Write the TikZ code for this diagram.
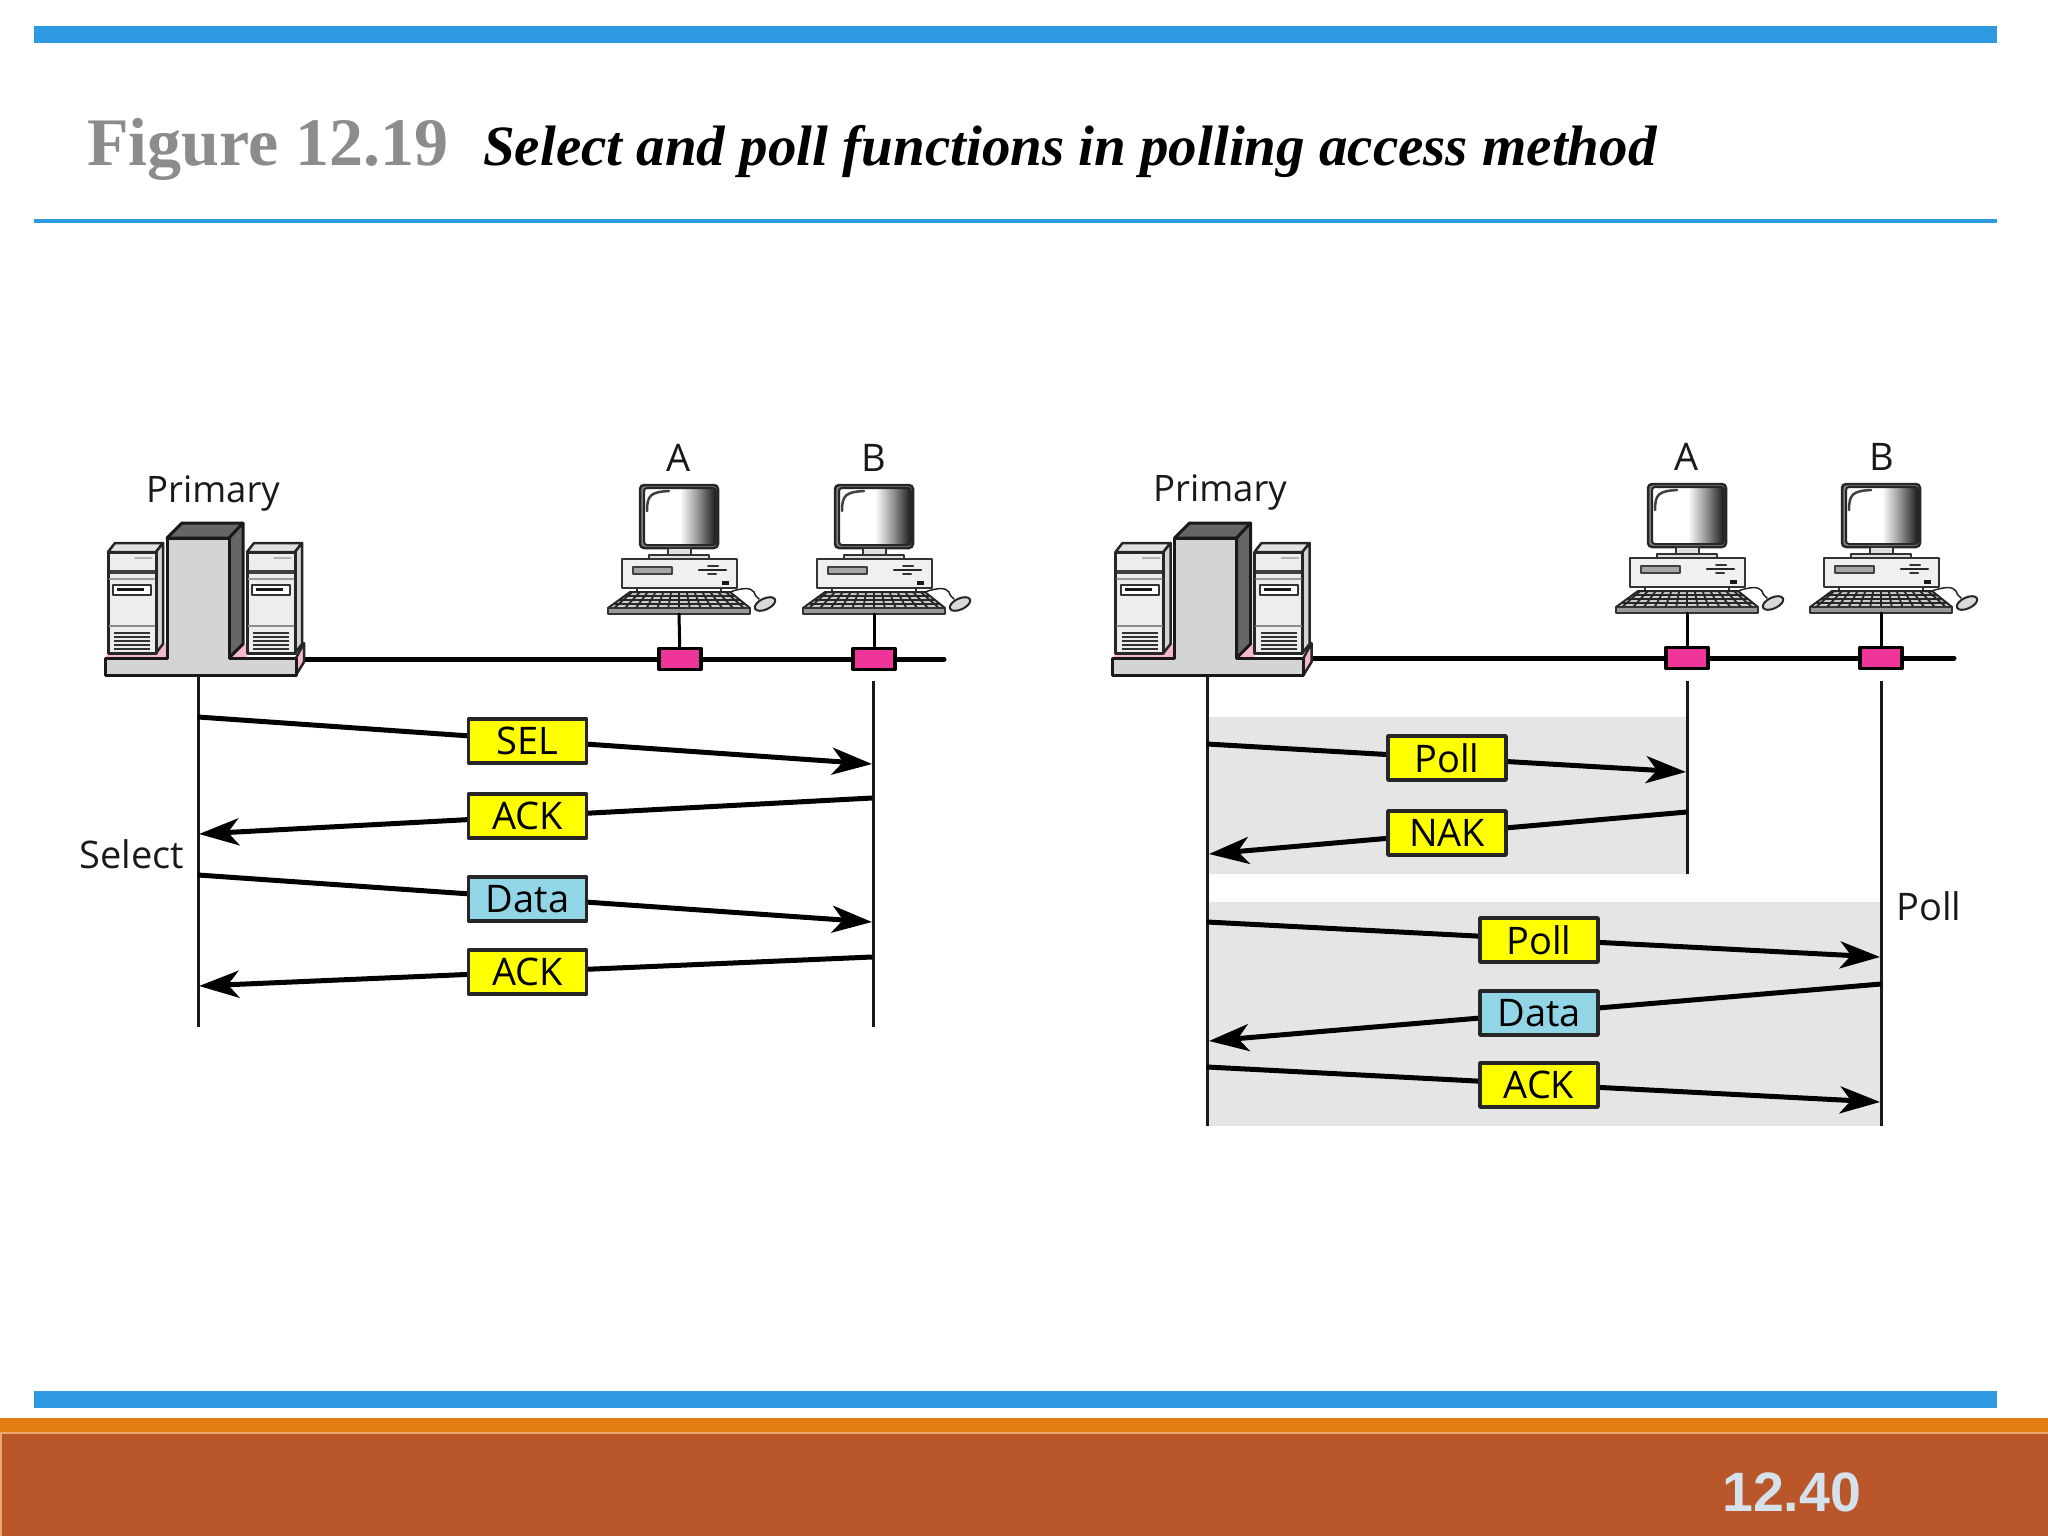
\documentclass[tikz,border=0pt]{standalone}
\usepackage{fontspec}
\setmainfont{Liberation Serif}
\newfontfamily\labelfont{Open Sans}
\newfontfamily\pagefont{Liberation Sans}
\usetikzlibrary{arrows.meta}
\definecolor{barblue}{HTML}{2E9AE2}
\definecolor{striporange}{HTML}{E27D12}
\definecolor{footbrick}{HTML}{BA572A}
\definecolor{footedge}{HTML}{EDA76B}
\definecolor{pagenum}{HTML}{D5E2EC}
\definecolor{tagyellow}{HTML}{FFFF00}
\definecolor{tagblue}{HTML}{92D5E6}
\definecolor{tappink}{HTML}{F0359A}
\definecolor{standpink}{HTML}{F5B7D2}
\definecolor{bandgrey}{HTML}{E5E5E5}
\definecolor{towergrey}{HTML}{D4D4D4}
\definecolor{towerdark}{HTML}{666666}
\pgfdeclarehorizontalshading{screenshade}{100bp}{color(0bp)=(white);color(25bp)=(white);color(50bp)=(white);color(62bp)=(black!40);color(75bp)=(black!90);color(100bp)=(black!90)}
\tikzset{
  lifeline/.style={line width=3pt,black!90,line cap=butt},
  busline/.style={line width=5pt,black},
  msg/.style={line width=5pt,black,line cap=butt,-{Stealth[length=40pt,width=27pt,inset=11pt]}},
  msgtag/.style={draw=black!85,line width=3.5pt,minimum width=118pt,minimum height=44pt,inner sep=0pt,font=\labelfont\fontsize{38}{40}\selectfont},
  ctltag/.style={msgtag,fill=tagyellow},
  datatag/.style={msgtag,fill=tagblue},
  caption/.style={inner sep=0pt,anchor=base,font=\labelfont\fontsize{38}{40}\selectfont,text=black!90},
  primcaption/.style={caption,font=\labelfont\fontsize{36.5}{40}\selectfont},
  tap/.style={draw=black,line width=3.5pt,fill=tappink,minimum width=42pt,minimum height=21pt,inner sep=0pt},
  bar/.style={fill=barblue,draw=none},
  minitower/.pic={
    \draw[line width=2.5pt,black!85,fill=towergrey!70] (0,0) -- (7,-9) -- (55,-9) -- (48,0) -- cycle;
    \draw[line width=2.5pt,black!85,fill=towergrey] (48,0) -- (55,-9) -- (55,92) -- (48,101) -- cycle;
    \draw[line width=3pt,black!85,fill=black!7] (0,0) rectangle (48,101);
    \draw[black!30,line width=1.5pt] (27,6) -- (44,6);
    \fill[black!75] (1.5,18) rectangle (46.5,22);
    \draw[black!40,line width=1.5pt] (1.5,27) -- (46.5,27);
    \draw[line width=2pt,black!80,fill=white] (5,33) rectangle (43,43);
    \fill[black!90] (9,36) rectangle (36,39);
    \draw[black!45,line width=2pt] (1.5,74) -- (46.5,74);
    \foreach \v in {81,85,89,93,97}
      \draw[black!80,line width=2pt,line cap=butt] (6,\v) -- (42,\v);
  },
  mainframe/.pic={
    \fill[standpink] (-93,-17) -- (-90,-22) -- (-42,-22) -- (-32,-32) -- (-31,-17) -- cycle;
    \fill[standpink] (32,-17) -- (45,-31) -- (49,-31) -- (49,-17) -- cycle;
    \draw[line width=2.5pt,black!85,fill=standpink] (98,0) -- (106,-13) -- (106,-32) -- (98,-17) -- cycle;
    \path (-90,-123) pic {minitower};
    \path (49,-123) pic {minitower};
    \draw[line width=3pt,black!90,fill=towerdark] (-31,-137) -- (-16,-152) -- (45,-152) -- (45,-31) -- (31,-17) -- (31,-137) -- cycle;
    \draw[line width=3pt,black!90] (31,-137) -- (45,-152);
    \draw[line width=3pt,black!90,fill=towergrey] (-93,0) -- (98,0) -- (98,-17) -- (31,-17) -- (31,-137) -- (-31,-137) -- (-31,-17) -- (-93,-17) -- cycle;
  },
  station/.pic={
    % monitor
    \draw[line width=2.5pt,black!85,fill=black!50,rounded corners=4pt] (-39,0) rectangle (39,63);
    \draw[line width=2pt,black!85,shading=screenshade,rounded corners=3pt] (-35,3) rectangle (37,60);
    \draw[line width=2.5pt,black!75] (-32,26) .. controls (-32,10) and (-28,7) .. (-10,6);
    \draw[line width=2pt,black!80,fill=black!12] (-11,63) rectangle (12,70);
    \draw[line width=2pt,black!80,fill=black!12] (-30,70) rectangle (30,74);
    % desktop box
    \draw[line width=2.5pt,black!80,fill=black!6] (-57,74) rectangle (58,103);
    \draw[line width=2pt,black!75,fill=black!35] (-46,82) rectangle (-7,89);
    \draw[line width=2.5pt,black!85] (20,85) -- (47,85);
    \draw[line width=2pt,black!80] (29,81) -- (39,81) (29,89) -- (37,89);
    \fill[black!90] (43,96) rectangle (50,100);
    \draw[line width=2pt,black!80] (-42,103) -- (-42,107) (42,103) -- (42,107);
    % keyboard
    \draw[line width=2pt,black!85,fill=black!20] (-49,107) -- (51,107) -- (71,123) -- (-71,123) -- cycle;
    \foreach \k in {-6,...,6}
      \draw[line width=1.8pt,black!85] (\k*7.8,107) -- (\k*10.8,123);
    \draw[line width=1.8pt,black!85] (-54,111) -- (55,111) (-59,115) -- (60,115) (-64,119) -- (65,119);
    \draw[line width=2pt,black!80,fill=black!40] (-71,123) rectangle (71,129);
    % mouse
    \draw[line width=1.5pt,black!85] (51,107) .. controls (62,103) and (72,102) .. (75,107) .. controls (76,111) and (78,112) .. (80,114);
    \draw[line width=2pt,black!85,fill=black!15,rotate around={25:(86,119)}] (86,119) ellipse (11pt and 5.5pt);
  }
}
\begin{document}
\begin{tikzpicture}[line cap=round,line join=round,x=1pt,y=-1pt]
\useasboundingbox (0,0) rectangle (2048,1536);
% page frame
\fill[bar] (34,26) rectangle (1997,43);
\fill[bar] (34,219) rectangle (1997,223);
\fill[bar] (34,1391) rectangle (1997,1408);
\fill[striporange] (0,1418) rectangle (2048,1432);
\fill[footedge] (0,1432) rectangle (2048,1536);
\fill[footbrick] (1.5,1433.5) rectangle (2048,1536);
\node[anchor=base west,inner sep=0pt,text=black!45,font=\bfseries\fontsize{68}{70}\selectfont] (figno) at (87,165) {Figure 12.19};
\node[anchor=base west,inner sep=0pt,font=\bfseries\itshape\fontsize{57}{60}\selectfont] (figtitle) at (483,165) {Select and poll functions in polling access method};
\node[anchor=base west,inner sep=0pt,text=pagenum,font=\pagefont\bfseries\fontsize{55.5}{58}\selectfont] (pageno) at (1722,1511) {12.40};
% left side: select
\coordinate (priL) at (198,675);
\coordinate (priLend) at (198,1027);
\coordinate (stBLend) at (873,1027);
\coordinate (stBLtop) at (873,681);
\coordinate (busLa) at (304,659);
\coordinate (busLb) at (944,659);
\draw[busline] (busLa) -- (busLb);
\path (priL) pic {mainframe};
\path (679,485) pic {station};
\path (874,485) pic {station};
\node[tap] (tapLA) at (680,659) {};
\node[tap] (tapLB) at (874,659) {};
\coordinate (kbLA) at (679,614);
\coordinate (kbLB) at (874,614);
\draw[line width=3pt] (kbLA) -- (tapLA);
\draw[line width=3pt] (kbLB) -- (tapLB);
\node[primcaption] (primL) at (213,502) {Primary};
\node[caption] (nameLA) at (679,471) {A};
\node[caption] (nameLB) at (874,471) {B};
\node[caption] (selectlab) at (132,868) {Select};
\draw[lifeline] (priL) -- (priLend);
\draw[lifeline] (stBLtop) -- (stBLend);
\coordinate (m1a) at (198,717);
\coordinate (m1b) at (872,764);
\coordinate (m2a) at (872,798);
\coordinate (m2b) at (199,834);
\coordinate (m3a) at (198,875);
\coordinate (m3b) at (872,922);
\coordinate (m4a) at (872,957);
\coordinate (m4b) at (199,986);
\draw[msg] (m1a) -- (m1b);
\draw[msg] (m2a) -- (m2b);
\draw[msg] (m3a) -- (m3b);
\draw[msg] (m4a) -- (m4b);
\node[ctltag] (tagsel) at (527.5,741) {SEL};
\node[ctltag] (tagack) at (527.5,816) {ACK};
\node[datatag] (tagdata) at (527.5,899) {Data};
\node[ctltag] (tagackb) at (527.5,972) {ACK};
% right side: poll
\fill[bandgrey] (1207,717) rectangle (1687,874);
\fill[bandgrey] (1207,902) rectangle (1881,1126);
\coordinate (priR) at (1207,674);
\coordinate (srvR) at (1205.5,675);
\coordinate (priRend) at (1207,1126);
\coordinate (stARtop) at (1687,681);
\coordinate (stARend) at (1687,874);
\coordinate (stBRtop) at (1881,681);
\coordinate (stBRend) at (1881,1126);
\coordinate (busRa) at (1310,658);
\coordinate (busRb) at (1954,658);
\draw[busline] (busRa) -- (busRb);
\path (srvR) pic {mainframe};
\path (1687,484) pic {station};
\path (1881,484) pic {station};
\node[tap] (tapRA) at (1687,658) {};
\node[tap] (tapRB) at (1881,658) {};
\coordinate (kbRA) at (1687,613);
\coordinate (kbRB) at (1881,613);
\draw[line width=3pt] (kbRA) -- (tapRA);
\draw[line width=3pt] (kbRB) -- (tapRB);
\node[primcaption] (primR) at (1220,501) {Primary};
\node[caption] (nameRA) at (1687,470) {A};
\node[caption] (nameRB) at (1882,470) {B};
\node[caption] (polllab) at (1929,920) {Poll};
\draw[lifeline] (priR) -- (priRend);
\draw[lifeline] (stARtop) -- (stARend);
\draw[lifeline] (stBRtop) -- (stBRend);
\coordinate (n1a) at (1207,744);
\coordinate (n1b) at (1686,772);
\coordinate (n2a) at (1687,812);
\coordinate (n2b) at (1209,854);
\coordinate (n3a) at (1207,922);
\coordinate (n3b) at (1880,957);
\coordinate (n4a) at (1881,984);
\coordinate (n4b) at (1209,1041);
\coordinate (n5a) at (1207,1067);
\coordinate (n5b) at (1880,1102);
\draw[msg] (n1a) -- (n1b);
\draw[msg] (n2a) -- (n2b);
\draw[msg] (n3a) -- (n3b);
\draw[msg] (n4a) -- (n4b);
\draw[msg] (n5a) -- (n5b);
\node[ctltag] (tagpoll) at (1447,758) {Poll};
\node[ctltag] (tagnak) at (1447,833) {NAK};
\node[ctltag] (tagpollb) at (1539,940) {Poll};
\node[datatag] (tagdatab) at (1539,1013) {Data};
\node[ctltag] (tagackc) at (1539,1085) {ACK};
\end{tikzpicture}
\end{document}
